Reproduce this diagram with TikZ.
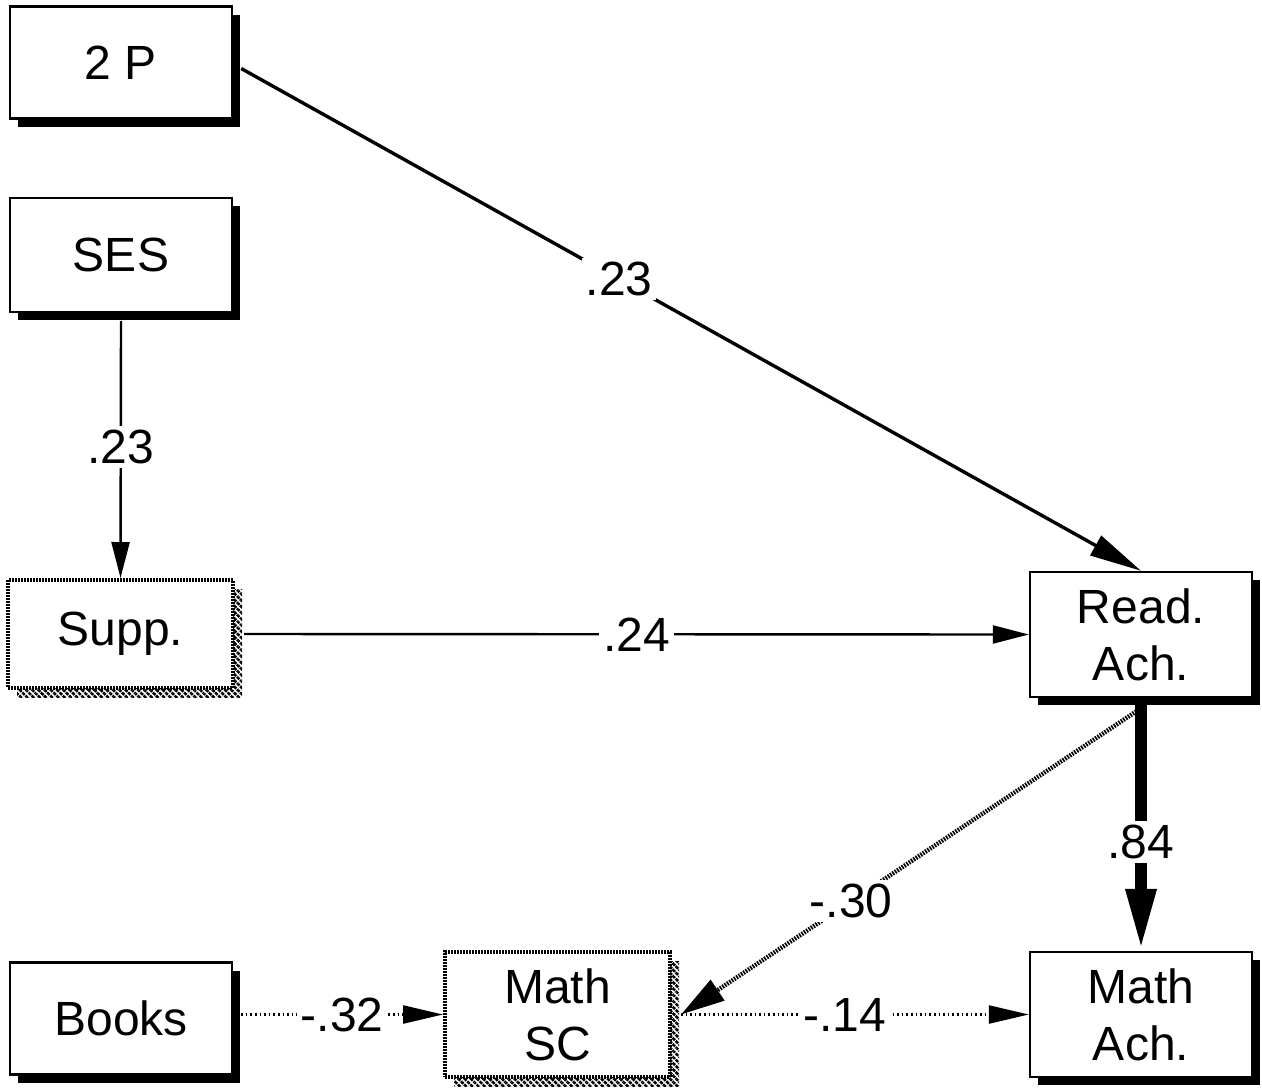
\documentclass[tikz,border=0pt]{standalone}
\usepackage{fontspec}
\setmainfont{Liberation Sans}
\usetikzlibrary{arrows.meta,shadows,patterns.meta}

\begin{document}
\begin{tikzpicture}[
    x=0.5pt, y=-0.5pt,
    lbl/.style={font=\fontsize{24}{28.5}\selectfont},
    basebox/.style={lbl, draw, fill=white, align=center, inner sep=0pt,
        minimum width=111pt, minimum height=56pt},
    solidbox/.style={basebox, line width=1.2pt,
        general shadow={fill=black, shadow xshift=4pt, shadow yshift=-4pt}},
    hatchbox/.style={basebox, line width=2pt, dash pattern=on 1pt off 0.5pt,
        general shadow={pattern={Lines[angle=-45, distance=2.2pt, line width=1.3pt]},
            shadow xshift=4.5pt, shadow yshift=-4.5pt}},
    coef/.style={lbl, fill=white, inner sep=2pt},
    link/.style={line width=1.2pt, -{Triangle[length=18pt, width=9pt]}},
    heavylink/.style={line width=6pt, -{Triangle[length=31pt, width=14pt]}},
    hatchlink/.style={line width=2.2pt, dash pattern=on 0.8pt off 0.6pt,
        -{Triangle[length=22pt, width=12pt]}},
    dotlink/.style={line width=1.2pt, dash pattern=on 0.8pt off 1.5pt,
        -{Triangle[length=20pt, width=9pt]}}
]
\useasboundingbox (0,0) rectangle (1262,1087);

% Exogenous variables
\node[solidbox] (twop) at (121,62.5) {2 P};
\node[solidbox, minimum height=57pt] (ses) at (121,255) {SES};
\node[hatchbox, minimum width=112.5pt, minimum height=54pt] (supp) at (120.5,634) {Supp.};
\node[solidbox] (books) at (121,1018.5) {Books};

% Mediator and outcomes
\node[hatchbox, minimum width=112.5pt, minimum height=62.5pt] (mathsc) at (557.5,1014.5) {Math\\SC};
\node[solidbox, minimum height=62.5pt] (readach) at (1141,634.5) {Read.\\Ach.};
\node[solidbox, minimum height=62.5pt] (mathach) at (1141,1014.5) {Math\\Ach.};

% Paths
\draw[link, line width=1.7pt, -{Triangle[length=26pt, width=11pt]}]
    ([xshift=4pt, yshift=-3pt]twop.east) -- node[coef, pos=0.42] {.23} (readach.north);
\draw[link] ([yshift=-4pt]ses.south) -- node[coef, pos=0.49] {.23} (supp.north);
\draw[link] ([xshift=4.5pt]supp.east) -- node[coef] {.24} (readach.west);
\draw[heavylink] (readach.south) -- node[coef, pos=0.57] {.84} (mathach.north);
\draw[hatchlink] ([yshift=-5pt]readach.south) -- node[coef, pos=0.63] {-.30} ([xshift=4.5pt]mathsc.east);
\draw[dotlink] ([xshift=4pt]books.east |- mathsc.west) -- node[coef] {-.32} (mathsc.west);
\draw[dotlink] ([xshift=4.5pt]mathsc.east) -- node[coef, pos=0.47] {-.14} (mathach.west);

\end{tikzpicture}
\end{document}
